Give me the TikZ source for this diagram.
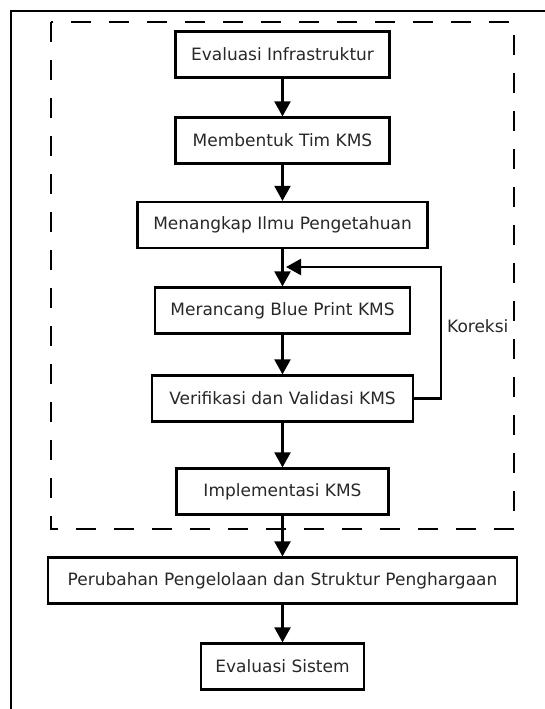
\documentclass[tikz,border=0pt]{standalone}
\usepackage{fontspec}
\setmainfont{DejaVu Sans}
\usetikzlibrary{arrows.meta}
\definecolor{txt}{RGB}{40,40,40}
\begin{document}
\begin{tikzpicture}[x=1pt,y=-1pt,
  box/.style={draw, line width=2.2pt, minimum height=46pt, inner sep=0pt,
    font=\fontsize{17}{20}\selectfont, text=txt},
  arr/.style={line width=2.2pt, -{Triangle[width=16pt,length=15pt]}},
  lbl/.style={font=\fontsize{17}{20}\selectfont, text=txt, inner sep=0pt}]
\useasboundingbox (0,0) rectangle (545,709);
\fill[white] (0,0) rectangle (545,709);
% outer frame
\coordinate (ftr) at (545,11);
\coordinate (ftl) at (11,11);
\coordinate (fbl) at (11,709);
\draw[line width=2.2pt] (ftr) -- (ftl) -- (fbl);
% dashed region
\coordinate (dtl) at (51,22);
\coordinate (dbr) at (514,529);
\draw[line width=2.2pt, dash pattern=on 20pt off 18pt] (dtl) rectangle (dbr);
% boxes
\node[box, minimum width=214pt] (b1) at (282.5,54.5) {Evaluasi Infrastruktur};
\node[box, minimum width=214pt] (b2) at (282.5,140.5) {Membentuk Tim KMS};
\node[box, minimum width=290pt] (b3) at (282.5,225) {Menangkap Ilmu Pengetahuan};
\node[box, minimum width=255pt] (b4) at (282.5,310.5) {Merancang Blue Print KMS};
\node[box, minimum width=261pt] (b5) at (282.5,398.5) {Verifikasi dan Validasi KMS};
\node[box, minimum width=212pt] (b6) at (282.5,491.5) {Implementasi KMS};
\node[box, minimum width=469pt] (b7) at (282.5,580.5) {Perubahan Pengelolaan dan Struktur Penghargaan};
\node[box, minimum width=163pt] (b8) at (282.5,666.5) {Evaluasi Sistem};
% arrows
\draw[arr] (b1) -- (b2);
\draw[arr] (b2) -- (b3);
\draw[arr] (b3) -- (b4);
\draw[arr] (b4) -- (b5);
\draw[arr] (b5) -- (b6);
\draw[arr] (b6) -- (b7);
\draw[arr] (b7) -- (b8);
% feedback
\coordinate (fbc) at (441,267);
\coordinate (fbend) at (286,267);
\draw[arr] (b5.east) -| (fbc) -- (fbend);
\node[lbl, anchor=west] (kor) at (447,326) {Koreksi};
\end{tikzpicture}
\end{document}
